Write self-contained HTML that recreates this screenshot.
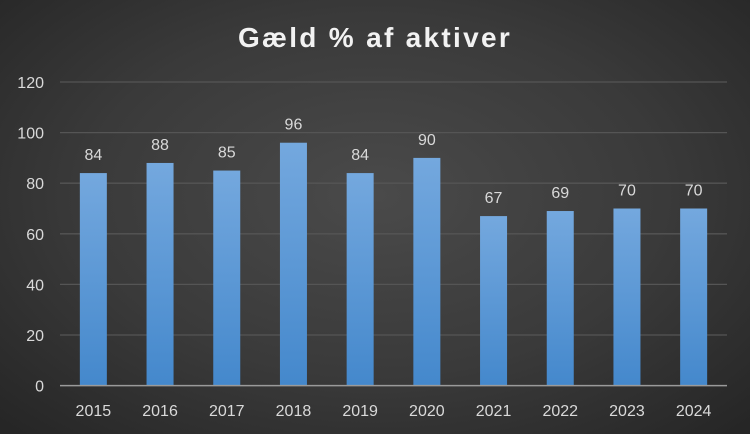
<!DOCTYPE html>
<html><head><meta charset="utf-8"><style>
body{margin:0}
#c{width:750px;height:434px;position:relative;overflow:hidden;font-family:"Liberation Sans",sans-serif;
background:radial-gradient(ellipse 70% 75% at 50% 45%,#4a4a4a 0%,#3a3a3a 55%,#262626 100%);}
</style></head><body><div id="c">
<svg width="750" height="434" xmlns="http://www.w3.org/2000/svg" style="position:absolute;left:0;top:0">
<defs><linearGradient id="g" x1="0" y1="0" x2="0" y2="1"><stop offset="0" stop-color="#74a8de"/><stop offset="1" stop-color="#4488cc"/></linearGradient></defs>
<text x="375" y="47" text-anchor="middle" fill="#f2f2f2" font-size="28" font-weight="bold" letter-spacing="2.3">Gæld % af aktiver</text>
<g stroke="#555" stroke-width="1.3">
<line x1="60" x2="727" y1="82" y2="82"/><line x1="60" x2="727" y1="132.6" y2="132.6"/><line x1="60" x2="727" y1="183.2" y2="183.2"/><line x1="60" x2="727" y1="233.8" y2="233.8"/><line x1="60" x2="727" y1="284.4" y2="284.4"/><line x1="60" x2="727" y1="335" y2="335"/>
</g>
<g fill="#d9d9d9" font-size="16" text-anchor="end">
<text x="44" y="88">120</text><text x="44" y="138.6">100</text><text x="44" y="189.2">80</text><text x="44" y="239.8">60</text><text x="44" y="290.4">40</text><text x="44" y="341">20</text><text x="44" y="391.6">0</text>
</g>
<g id="bars"></g>
<line x1="60" x2="727" y1="385.6" y2="385.6" stroke="#9a9a9a" stroke-width="1.5"/>
</svg>
<script>
var v=[84,88,85,96,84,90,67,69,70,70],s='';
for(var i=0;i<10;i++){var cx=60+66.7*(i+0.5),h=v[i]*2.53,y=385.6-h;
s+='<rect x="'+(cx-13.5)+'" y="'+y+'" width="27" height="'+h+'" fill="url(#g)"/>';
s+='<text x="'+cx+'" y="'+(y-13)+'" text-anchor="middle" fill="#d9d9d9" font-size="16">'+v[i]+'</text>';
s+='<text x="'+cx+'" y="416" text-anchor="middle" fill="#d9d9d9" font-size="16">'+(2015+i)+'</text>';}
document.getElementById('bars').innerHTML=s;
</script>
</div></body></html>
